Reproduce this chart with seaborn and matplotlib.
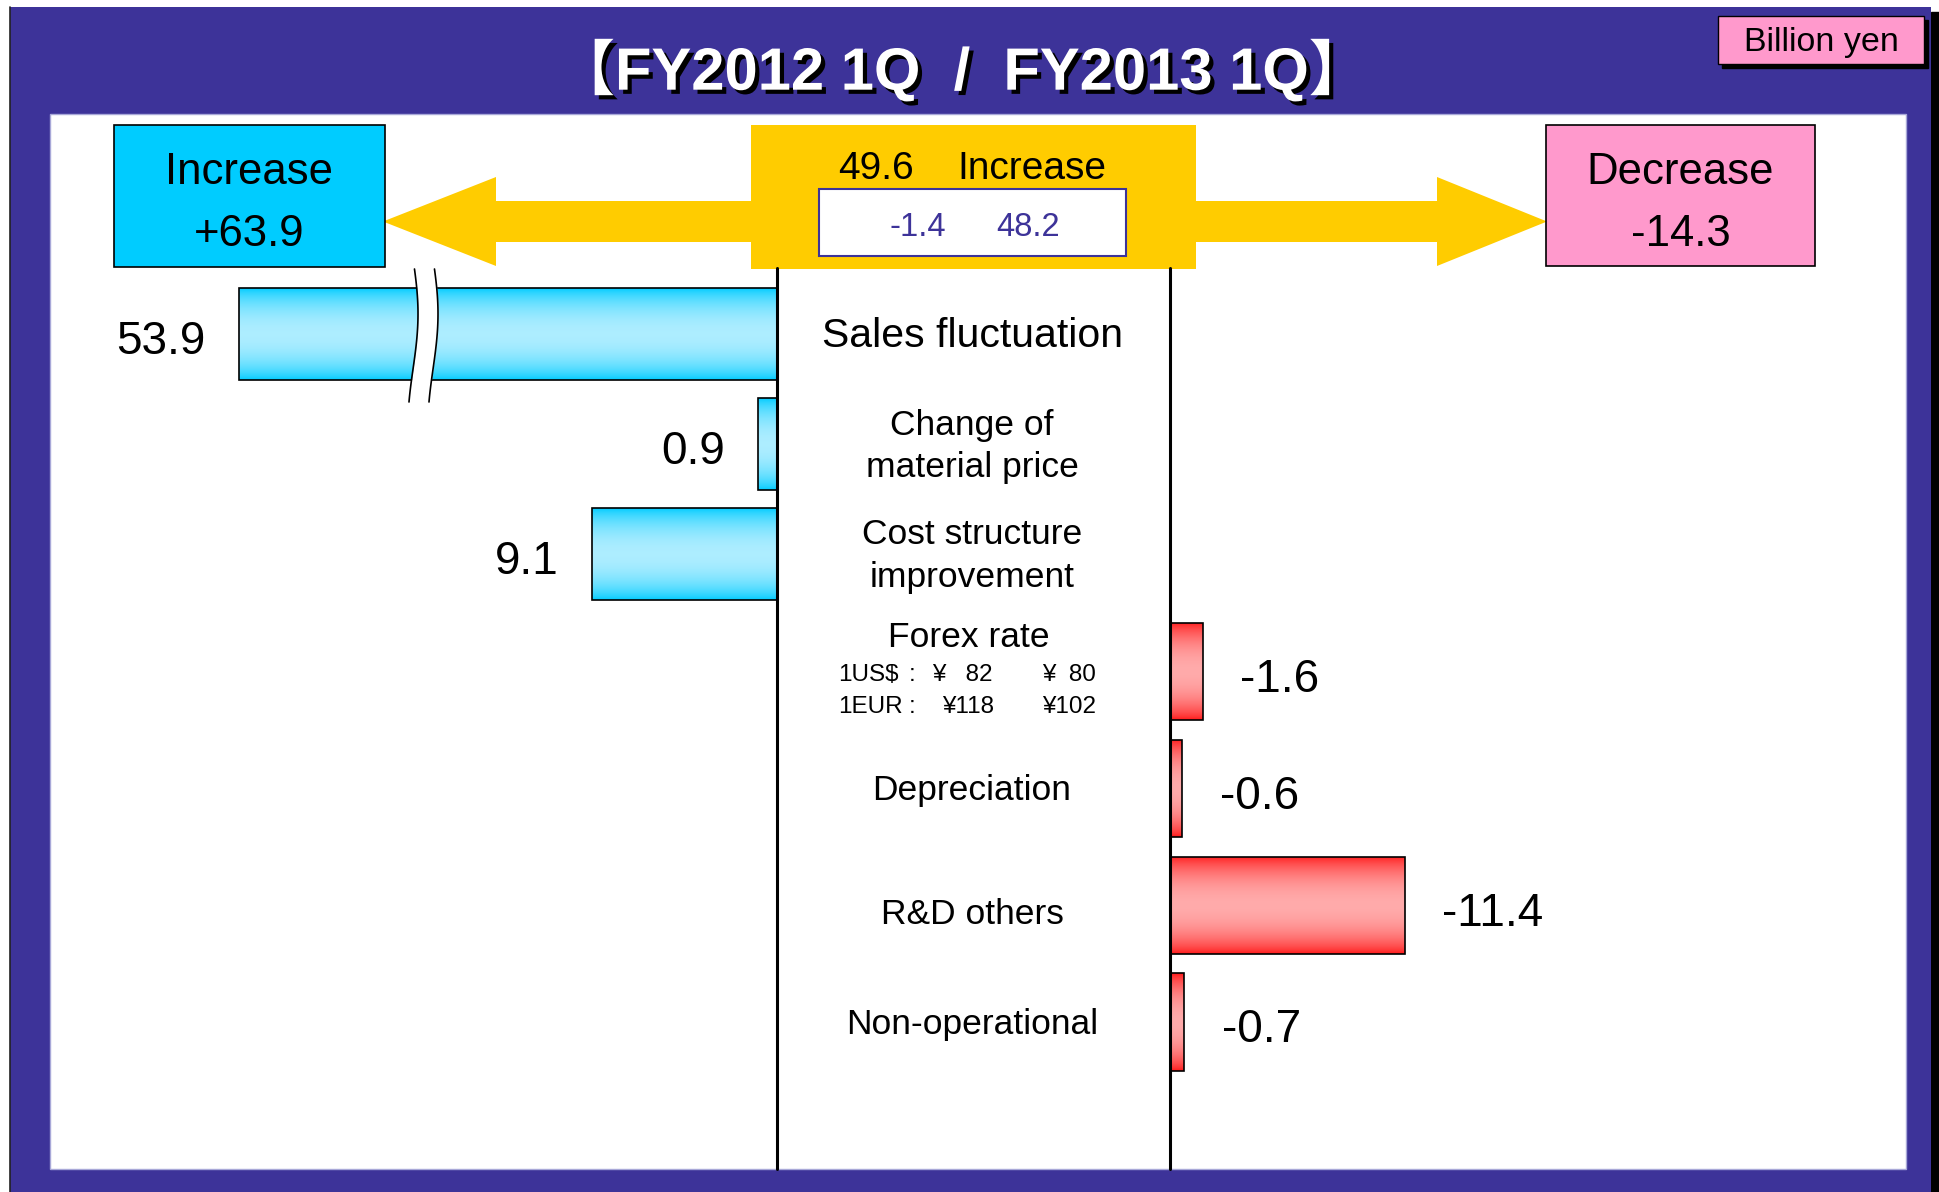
import numpy as np
import matplotlib
matplotlib.use("Agg")
import matplotlib.pyplot as plt
import matplotlib.patheffects as pe
from matplotlib.patches import Rectangle, Polygon
import seaborn as sns

# data
title = "【FY2012 1Q  /  FY2013 1Q】"
unit = "Billion yen"
inc_items = ["Sales fluctuation", "Change of\nmaterial price", "Cost structure\nimprovement"]
inc_values = [53.9, 0.9, 9.1]
dec_items = ["Forex rate", "Depreciation", "R&D others", "Non-operational"]
dec_values = [-1.6, -0.6, -11.4, -0.7]
total_increase = 63.9
total_decrease = -14.3
op_change = 49.6
non_op_change = -1.4
net_change = 48.2
forex_usd = ["1US$", ":", "¥   82", "¥  80"]
forex_eur = ["1EUR", ":", "¥118", "¥102"]

PURPLE = "#3D3399"
CYAN = "#00CCFF"
PINK = "#FF99CC"
YELLOW = "#FFCC00"

sns.set_style("white")
plt.rcParams["font.family"] = ["Liberation Sans", "Noto Sans CJK JP", "DejaVu Sans"]
plt.rcParams["text.color"] = "black"

W, H = 1939, 1192
fig = plt.figure(figsize=(W / 100, H / 100), dpi=100)


def px_axes(x0, y0, x1, y1, z):
    a = fig.add_axes([x0 / W, 1 - y1 / H, (x1 - x0) / W, (y1 - y0) / H])
    a.set_zorder(z)
    return a


# background / frame, in pixel coords
deco = px_axes(0, 0, W, H, 0)
deco.set_xlim(0, W)
deco.set_ylim(H, 0)
deco.axis("off")
deco.add_patch(Rectangle((1931, 12), 8, H - 12, color="black"))
deco.add_patch(Rectangle((10, 7), 1921, H - 7, facecolor=PURPLE, edgecolor="none"))
deco.plot([10, 10], [7, H], color="#222222", lw=1.2)
deco.add_patch(Rectangle((49.5, 113.5), 1856.5, 1055.5, facecolor="white", edgecolor="#A8A8D8", lw=1))

deco.text(962, 70, title, color="white", fontsize=43, fontweight="bold", ha="center", va="center",
          path_effects=[pe.SimplePatchShadow(offset=(3, -3), shadow_rgbFace="black", alpha=1.0), pe.Normal()])
deco.add_patch(Rectangle((1722, 19.5), 206, 48.5, color="black"))
deco.add_patch(Rectangle((1718, 15.5), 206, 48.5, facecolor=PINK, edgecolor="black", lw=1))
deco.text(1821, 42, unit, fontsize=24.5, ha="center", va="center")

# arrows and summary boxes
deco.add_patch(Polygon([(752, 201), (496, 201), (496, 177), (383, 221.5), (496, 266), (496, 242), (752, 242)],
                       facecolor=YELLOW, edgecolor="none"))
deco.add_patch(Polygon([(1196, 201), (1437, 201), (1437, 177), (1547, 221.5), (1437, 266), (1437, 242), (1196, 242)],
                       facecolor=YELLOW, edgecolor="none"))
deco.add_patch(Rectangle((113.5, 125), 271.5, 142, facecolor=CYAN, edgecolor="black", lw=1.2))
deco.text(249, 172, "Increase", fontsize=31.5, ha="center", va="center")
deco.text(249, 235, f"+{total_increase:.1f}", fontsize=31.5, ha="center", va="center")
deco.add_patch(Rectangle((1546, 125), 269, 141, facecolor=PINK, edgecolor="black", lw=1.2))
deco.text(1680.5, 172, "Decrease", fontsize=31.5, ha="center", va="center")
deco.text(1680.5, 235, f"{total_decrease:.1f}", fontsize=31.5, ha="center", va="center")
deco.add_patch(Rectangle((751, 125), 445, 144, facecolor=YELLOW, edgecolor="none"))
deco.text(876, 169, f"{op_change:.1f}", fontsize=28, ha="center", va="center")
deco.text(1032, 169, "Increase", fontsize=28, ha="center", va="center")
deco.add_patch(Rectangle((819, 189), 307, 66.5, facecolor="white", edgecolor=PURPLE, lw=1.5))
deco.text(917.5, 228, f"{non_op_change:.1f}", fontsize=23.5, ha="center", va="center", color=PURPLE)
deco.text(1028, 228, f"{net_change:.1f}", fontsize=23.5, ha="center", va="center", color=PURPLE)

# bar layout
ZERO_L, ZERO_R = 776.6, 1169.8
PPU_L, PPU_R = 20.3, 20.6
BREAK_X = 424
L_TOP, L_STEP = 279, 110
R_TOP, R_STEP = 613.3, 116.8
L_BOT = L_TOP + L_STEP * len(inc_items)
R_BOT = R_TOP + R_STEP * len(dec_items)

cyan_edge, cyan_mid = (0.0, 0.80, 1.0), (0.68, 0.93, 1.0)
red_edge, red_mid = (1.0, 0.10, 0.10), (1.0, 0.67, 0.67)


def gradient_bars(ax, edge, mid):
    t = np.linspace(0, 1, 80)
    w = np.sin(np.pi * t) ** 0.7
    grad = (np.array(edge)[None, :] * (1 - w[:, None]) + np.array(mid)[None, :] * w[:, None])[:, None, :]
    for p in list(ax.patches):
        x0, y0 = p.get_x(), p.get_y()
        im = ax.imshow(grad, extent=(x0, x0 + p.get_width(), y0 + p.get_height(), y0),
                       aspect="auto", interpolation="bilinear", zorder=1.5)
        # clip with the bar's path (keeps the axes clip box too)
        im.set_clip_path(p.get_path(), p.get_transform())
        p.set_facecolor("none")
        p.set_zorder(2)


def label_bars(ax, values, side, off=24):
    lo, hi = sorted(ax.get_xlim())
    for i, v in enumerate(values):
        if lo <= v <= hi:
            ax.annotate(f"{v:.1f}", xy=(v, i), xytext=(off * side, -6), textcoords="offset points",
                        ha="left" if side > 0 else "right", va="center", fontsize=33)


# increases: broken axis (inner part near zero, outer part near 53.9)
ax_in = px_axes(BREAK_X, L_TOP, ZERO_L, L_BOT, 1)
ax_out = px_axes(200, L_TOP, BREAK_X, L_BOT, 1)
v_break = max(inc_values) - (BREAK_X - 238.7) / PPU_L
for ax, xl in [(ax_in, ((ZERO_L - BREAK_X) / PPU_L, 0)),
               (ax_out, (v_break + (BREAK_X - 200) / PPU_L, v_break))]:
    sns.barplot(x=inc_values, y=inc_items, orient="h", color=CYAN, saturation=1, width=0.836,
                edgecolor="black", linewidth=1.2, ax=ax)
    gradient_bars(ax, cyan_edge, cyan_mid)
    ax.set_xlim(*xl)
    ax.set_ylim(len(inc_items) - 0.5, -0.5)
    ax.axis("off")
    label_bars(ax, inc_values, -1)

# decreases
ax_r = px_axes(ZERO_R, R_TOP, 1900, R_BOT, 1)
sns.barplot(x=dec_values, y=dec_items, orient="h", color="red", saturation=1, width=0.835,
            edgecolor="black", linewidth=1.2, ax=ax_r)
gradient_bars(ax_r, red_edge, red_mid)
ax_r.set_xlim(0, -(1900 - ZERO_R) / PPU_R)
ax_r.set_ylim(len(dec_items) - 0.5, -0.5)
ax_r.axis("off")
label_bars(ax_r, dec_values, 1, off=27)

# overlay: center lines, break marks, item names
top = px_axes(0, 0, W, H, 5)
top.set_xlim(0, W)
top.set_ylim(H, 0)
top.axis("off")
top.plot([ZERO_L, ZERO_L], [268, 1169], color="black", lw=2.2)
top.plot([ZERO_R, ZERO_R], [268, 1169], color="black", lw=2.2)

yy = np.linspace(269, 402, 60)
s = (yy - 269) / 133
xl_ = 413 + 5 * np.sin(np.pi * s * 1.2 + 0.3)
top.fill_betweenx(yy, xl_, xl_ + 20, color="white", lw=0)
top.plot(xl_, yy, color="black", lw=1.2)
top.plot(xl_ + 20, yy, color="black", lw=1.2)

CX = 972
for i, name in enumerate(inc_items):
    yc = L_TOP + (i + 0.5) * L_STEP
    lines = name.split("\n")
    if len(lines) == 1:
        top.text(CX, yc + 2, name, fontsize=29.5, ha="center", va="center")
    else:
        for k, ln in enumerate(lines):
            top.text(CX, yc + 2 + (k - 0.5) * 42, ln, fontsize=25.5, ha="center", va="center")
for i, name in enumerate(dec_items):
    yc = R_TOP + (i + 0.5) * R_STEP
    if name == "Forex rate":
        top.text(CX - 3, yc - 34, name, fontsize=25.5, ha="center", va="center")
        for row, dy in [(forex_usd, 3), (forex_eur, 35)]:
            xs = [838, 909, 932 if row is forex_usd else 942, 1042]
            for x, part in zip(xs, row):
                top.text(x, yc + dy, part, fontsize=17.5, ha="left", va="center")
    elif name == "R&D others":
        top.text(CX, yc + 9, name, fontsize=25.5, ha="center", va="center")
    else:
        top.text(CX, yc + 2, name, fontsize=25.5, ha="center", va="center")

fig.savefig("out.png", dpi=100, facecolor="white")
